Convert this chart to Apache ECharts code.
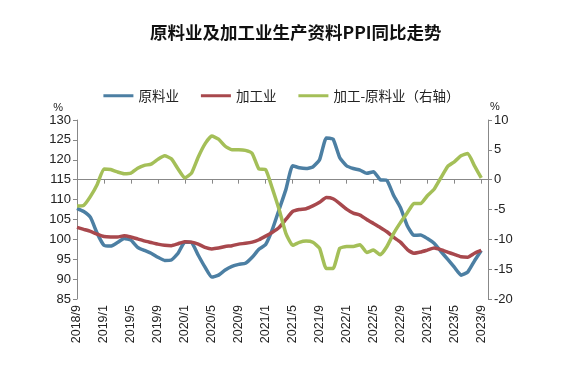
<!DOCTYPE html>
<html><head><meta charset="utf-8">
<script src="https://cdn.jsdelivr.net/npm/echarts@6/dist/echarts.min.js"></script>
<style>html,body{margin:0;padding:0;background:#fff}#c{width:563px;height:387px}</style>
</head><body><div id="c"></div>
<script>
const categories = [];
for (let y = 2018, m = 9; !(y === 2023 && m === 11); ) { categories.push(y + '/' + m); m++; if (m > 12) { m = 1; y++; } }
const rawMaterial = [107.8,107,105.5,101.5,98.5,98.3,99.2,100.2,99.8,98,97.2,96.5,95.5,94.7,94.8,96.5,99.3,99.2,96,93,90.5,91,92.3,93.2,93.7,94,95.5,97.5,98.7,102.5,107.5,112.5,118.5,118,117.8,118.2,120,125.5,125.2,120.5,118.5,117.8,117.4,116.6,117,115,114.8,111,108,103.5,101,101.1,100.2,99,97,95,93,91,91.8,94.6,97.2];
const processing = [103,102.5,102,101.3,100.7,100.6,100.6,100.9,100.6,100.1,99.6,99.2,98.8,98.5,98.4,98.9,99.4,99.3,98.8,98,97.6,97.8,98.2,98.4,98.8,99,99.3,99.9,100.8,101.8,103,105,107,107.5,107.7,108.4,109.3,110.5,110.2,109,107.6,106.6,106.1,105,104,103,101.9,100.5,99.3,97.5,96.5,96.8,97.3,97.8,97.4,96.8,96.2,95.6,95.5,96.5,97.2];
const spread = [-4.4,-4.3,-2.8,-0.8,1.8,1.7,1.3,1.0,1.1,1.9,2.4,2.6,3.4,4.0,3.5,1.8,0.3,1.1,3.8,6.0,7.3,6.8,5.6,5.0,5.0,4.9,4.4,1.8,1.7,-1.5,-5.0,-9.0,-11.0,-10.5,-10.3,-10.5,-11.5,-14.9,-14.9,-11.5,-11.2,-11.2,-10.9,-12.2,-11.8,-12.6,-11.2,-9.0,-7.2,-5.6,-4.0,-4.0,-2.7,-1.6,0.3,2.2,3.0,4.0,4.4,2.3,0.3];
const seriesNames = ['原料业','加工业','加工-原料业（右轴）'];
const colors = ['#4c7fa3','#a8484d','#a4bf58'];

const chart = echarts.init(document.getElementById('c'));
const axisFont = {fontFamily:'Liberation Sans, Arial, sans-serif', fontSize:13, color:'#222'};
chart.setOption({
  animation:false,
  title:{text:'原料业及加工业生产资料PPI同比走势', left:145, top:19,
    textStyle:{fontFamily:'Noto Sans CJK SC', fontSize:17.5, fontWeight:'bold', color:'#111'}},
  legend:{top:84, left:'center', itemWidth:30, itemHeight:3, itemGap:22,
    icon:'rect', textStyle:{fontFamily:'Noto Sans CJK SC', fontSize:13.5, color:'#222'},
    data:seriesNames},
  grid:{left:77, right:75, top:120, bottom:88},
  xAxis:{type:'category', data:categories, boundaryGap:false,
    axisLine:{lineStyle:{color:'#888'}},
    axisTick:{interval:3, length:4, lineStyle:{color:'#888'}},
    axisLabel:{interval:3, rotate:90, fontFamily:'Liberation Sans, Arial, sans-serif', fontSize:12.5, color:'#222', margin:6,
      formatter:(v,i)=> i<=60 ? v : ''}},
  yAxis:[
    {type:'value', min:85, max:130, interval:5, name:'%', nameGap:6,
      nameTextStyle:{fontFamily:'Liberation Sans, Arial', fontSize:11, color:'#222', align:'right', padding:[0,14,0,0]},
      axisLine:{show:true, lineStyle:{color:'#888'}}, axisTick:{show:true, length:4, lineStyle:{color:'#888'}},
      splitLine:{show:false}, axisLabel:Object.assign({margin:6}, axisFont)},
    {type:'value', min:-20, max:10, interval:5, name:'%', nameGap:8,
      nameTextStyle:{fontFamily:'Liberation Sans, Arial', fontSize:11, color:'#222', align:'left', padding:[0,0,0,2]},
      axisLine:{show:true, lineStyle:{color:'#888'}}, axisTick:{show:true, length:4, lineStyle:{color:'#888'}},
      splitLine:{show:false}, axisLabel:Object.assign({margin:6}, axisFont)}
  ],
  series:[
    {name:seriesNames[0], type:'line', data:rawMaterial, yAxisIndex:0, showSymbol:false, smooth:0.15,
      lineStyle:{width:3.5, color:colors[0]}, itemStyle:{color:colors[0]}, z:2},
    {name:seriesNames[1], type:'line', data:processing, yAxisIndex:0, showSymbol:false, smooth:0.15,
      lineStyle:{width:3.5, color:colors[1]}, itemStyle:{color:colors[1]}, z:3},
    {name:seriesNames[2], type:'line', data:spread, yAxisIndex:1, showSymbol:false, smooth:0.15,
      lineStyle:{width:3.5, color:colors[2]}, itemStyle:{color:colors[2]}, z:4}
  ]
});
</script></body></html>
